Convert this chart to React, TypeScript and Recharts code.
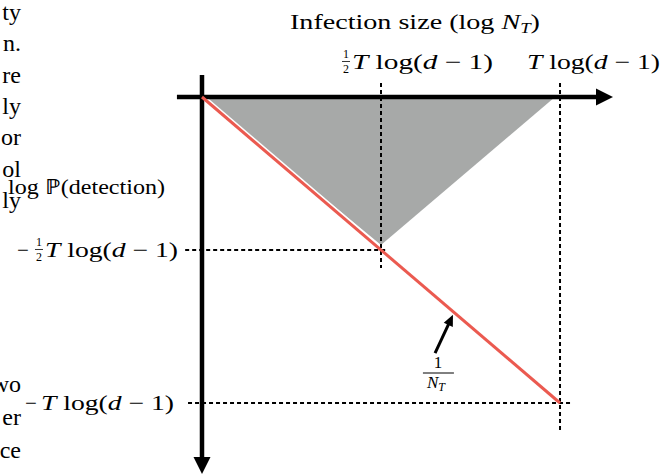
import React from "react";
import {
  Area,
  ComposedChart,
  Line,
  ReferenceDot,
  ReferenceLine,
  XAxis,
  YAxis,
} from "recharts";

// both axes in units of T log(d - 1)
const X_DOMAIN = [-0.5642, 1.3128];
const Y_DOMAIN = [-1.2386, 0.317];

// log P(detection) = -log N_T  (red line)
const boundary = [
  { n: 0, p: 0 },
  { n: 1, p: -1 },
];

// grey triangle
const region = [
  { n: 0, p: [0, 0] },
  { n: 0.5, p: [-0.484, 0] },
  { n: 0.986, p: [0, 0] },
];

const xTicks = [0.5, 1];
const xTickCoef = ["½", ""];
const yTicks = [-0.5, -1];
const yTickCoef = ["−½", "−"];

// bits of the neighbouring paper column
const sideTop = ["ty", "n.", "re", "ly", "or", "ol", "ly"];
const sideBottom = ["wo", "er", "ce"];

const SERIF = "'Liberation Serif', 'Times New Roman', serif";
const RED = "#eb5a50";
const GREY = "#a7a9a8";

const arrowShape = (w: number, head: number, half: number) => (p: any) => {
  const { x1, y1, x2, y2 } = p;
  const dx = x2 - x1;
  const dy = y2 - y1;
  const L = Math.hypot(dx, dy) || 1;
  const ux = dx / L;
  const uy = dy / L;
  const bx = x2 - ux * head;
  const by = y2 - uy * head;
  return (
    <g>
      <line x1={x1} y1={y1} x2={bx + ux} y2={by + uy} stroke="#000" strokeWidth={w} />
      <polygon
        points={`${x2},${y2} ${bx - uy * half},${by + ux * half} ${bx + uy * half},${by - ux * half}`}
        fill="#000"
      />
    </g>
  );
};

const dashShape = (p: any) => (
  <line
    x1={p.x1}
    y1={p.y1}
    x2={p.x2}
    y2={p.y2}
    stroke="#000"
    strokeWidth={2}
    strokeDasharray="4 3"
  />
);

// white edge that separates the red line from the grey region
const edgeShape = (p: any) => (
  <line x1={p.x1} y1={p.y1} x2={p.x2} y2={p.y2} stroke="#fff" strokeWidth={6} />
);

// "coef T log(d - 1)" with T starting at tx
const mathRow = (tx: number, base: number, len: number, coef: string) => (
  <g fontFamily={SERIF} fill="#000">
    {coef.includes("½") && (
      <g fontSize={12}>
        <text x={tx - 6} y={base - 11} textAnchor="middle">1</text>
        <line x1={tx - 10} x2={tx - 2} y1={base - 7.5} y2={base - 7.5} stroke="#000" strokeWidth={0.8} />
        <text x={tx - 6} y={base + 4} textAnchor="middle">2</text>
      </g>
    )}
    {coef.startsWith("−") && (
      <text x={coef.length > 1 ? tx - 22 : tx - 10} y={base} fontSize={21} textAnchor="middle">
        −
      </text>
    )}
    <text x={tx} y={base} fontSize={21} textLength={len} lengthAdjust="spacingAndGlyphs">
      <tspan fontStyle="italic">T</tspan> log(<tspan fontStyle="italic">d</tspan> − 1)
    </text>
  </g>
);

export default function App() {
  return (
    <div
      style={{
        position: "absolute",
        left: 0,
        top: 0,
        width: 672,
        height: 476,
        background: "#fff",
        overflow: "hidden",
      }}
    >
      <ComposedChart width={672} height={476} margin={{ top: 0, right: 0, bottom: 0, left: 0 }}>
        <XAxis type="number" dataKey="n" domain={X_DOMAIN} allowDataOverflow hide />
        <YAxis type="number" domain={Y_DOMAIN} allowDataOverflow hide />

        <Area
          data={region}
          dataKey="p"
          type="linear"
          fill={GREY}
          fillOpacity={1}
          stroke="none"
          isAnimationActive={false}
        />

        <ReferenceLine
          segment={boundary.map((d) => ({ x: d.n, y: d.p }))}
          shape={edgeShape}
        />

        {/* dashed guides */}
        <ReferenceLine segment={[{ x: 0.5, y: 0.046 }, { x: 0.5, y: -0.559 }]} shape={dashShape} />
        <ReferenceLine segment={[{ x: 1, y: 0.046 }, { x: 1, y: -1.098 }]} shape={dashShape} />
        <ReferenceLine segment={[{ x: -0.047, y: -0.5 }, { x: 0.517, y: -0.5 }]} shape={dashShape} />
        <ReferenceLine segment={[{ x: -0.039, y: -1 }, { x: 1.028, y: -1 }]} shape={dashShape} />

        {/* axes */}
        <ReferenceLine segment={[{ x: -0.07, y: 0 }, { x: 1.148, y: 0 }]} shape={arrowShape(4.5, 17, 8.5)} />
        <ReferenceLine segment={[{ x: 0, y: 0.072 }, { x: 0, y: -1.232 }]} shape={arrowShape(4.5, 17, 8.5)} />

        <Line
          data={boundary}
          dataKey="p"
          type="linear"
          stroke={RED}
          strokeWidth={3}
          dot={false}
          activeDot={false}
          isAnimationActive={false}
        />

        {/* 1/N_T pointer */}
        <ReferenceLine segment={[{ x: 0.651, y: -0.837 }, { x: 0.701, y: -0.712 }]} shape={arrowShape(3, 11, 5)} />

        {/* title */}
        <ReferenceDot
          x={0}
          y={0}
          r={0}
          shape={(p: any) => (
            <text x={p.cx + 88} y={p.cy - 68} fontFamily={SERIF} fontSize={21} textLength={250} lengthAdjust="spacingAndGlyphs">
              Infection size (log <tspan fontStyle="italic">N</tspan>
              <tspan fontStyle="italic" fontSize={14} dy={4}>T</tspan>
              <tspan dy={-4}>)</tspan>
            </text>
          )}
        />

        {xTicks.map((v, i) => (
          <ReferenceDot
            key={"xt" + v}
            x={v}
            y={0}
            r={0}
            shape={(p: any) => mathRow(p.cx + (xTickCoef[i] ? -29 : -33), p.cy - 28, xTickCoef[i] ? 141 : 133, xTickCoef[i])}
          />
        ))}

        {yTicks.map((v, i) => (
          <ReferenceDot
            key={"yt" + v}
            x={0}
            y={v}
            r={0}
            shape={(p: any) => mathRow(p.cx - 25 - 134 + (yTickCoef[i].length > 1 ? 2 : -2), p.cy + 7, 133, yTickCoef[i])}
          />
        ))}

        {/* y axis title */}
        <ReferenceDot
          x={0}
          y={-0.314}
          r={0}
          shape={(p: any) => (
            <text x={p.cx - 194} y={p.cy + 1} fontFamily={SERIF} fontSize={21} textLength={157} lengthAdjust="spacingAndGlyphs">
              log ℙ(detection)
            </text>
          )}
        />

        {/* 1/N_T */}
        <ReferenceDot
          x={0.659}
          y={-0.902}
          r={0}
          shape={(p: any) => (
            <g fontFamily={SERIF} fill="#000">
              <text x={p.cx} y={p.cy - 5} fontSize={17} textAnchor="middle">1</text>
              <line x1={p.cx - 15} x2={p.cx + 16} y1={p.cy} y2={p.cy} stroke="#000" strokeWidth={1} />
              <text x={p.cx - 2} y={p.cy + 15} fontSize={17} textAnchor="middle">
                <tspan fontStyle="italic">N</tspan>
                <tspan fontStyle="italic" fontSize={12} dy={3}>T</tspan>
              </text>
            </g>
          )}
        />
      </ComposedChart>

      {sideTop.map((w, i) => (
        <div key={"s" + i} style={sideStyle(20 + i * 31.3)}>
          {w}
        </div>
      ))}
      {sideBottom.map((w, i) => (
        <div key={"b" + i} style={sideStyle(392 + i * 33)}>
          {w}
        </div>
      ))}
    </div>
  );
}

function sideStyle(baseline: number): React.CSSProperties {
  return {
    position: "absolute",
    left: -60,
    width: 81,
    top: baseline - 20,
    textAlign: "right",
    fontFamily: SERIF,
    fontSize: 24,
    lineHeight: "24px",
    color: "#000",
    whiteSpace: "nowrap",
  };
}
